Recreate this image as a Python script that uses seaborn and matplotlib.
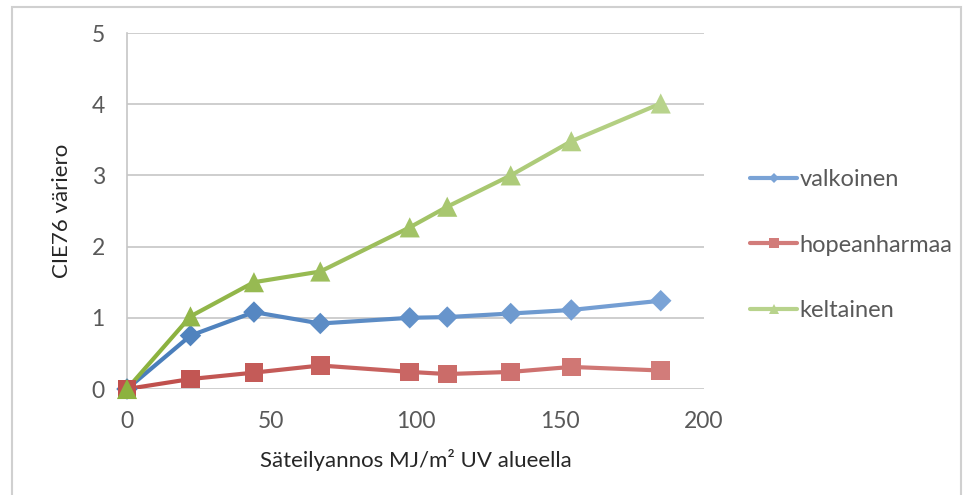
import matplotlib
matplotlib.use("Agg")
import matplotlib.pyplot as plt
import matplotlib.patches as mpatches
from matplotlib.lines import Line2D
import matplotlib.colors as mcolors
import numpy as np
import pandas as pd
import seaborn as sns

# data
dose = [0, 22, 44, 67, 98, 111, 133, 154, 185]
valkoinen = [0, 0.75, 1.08, 0.92, 1.00, 1.01, 1.06, 1.11, 1.24]
hopeanharmaa = [0, 0.14, 0.23, 0.33, 0.24, 0.21, 0.24, 0.31, 0.26]
keltainen = [0, 1.02, 1.50, 1.65, 2.27, 2.56, 3.00, 3.48, 4.01]
series_names = ["valkoinen", "hopeanharmaa", "keltainen"]

sns.set_style("white")
plt.rcParams["font.family"] = ["Lato", "DejaVu Sans"]

text_col = "#595959"
grid_col = "#c6c6c6"

# (start colour, end colour, marker, marker size)
styles = {
    "valkoinen": ("#4a7ebb", "#7aa3d6", "D", 120),
    "hopeanharmaa": ("#c0504d", "#d27c7a", "s", 180),
    "keltainen": ("#8cb23f", "#b8d38c", "^", 210),
}
values = {"valkoinen": valkoinen, "hopeanharmaa": hopeanharmaa, "keltainen": keltainen}

fig = plt.figure(figsize=(9.63, 4.95), dpi=100)
ax = fig.add_axes([127 / 963, 1 - 389 / 495, (704 - 127) / 963, (389 - 33) / 495])

for name in series_names:
    c0, c1, mk, ms = styles[name]
    ys = values[name]
    c0 = np.array(mcolors.to_rgb(c0))
    c1 = np.array(mcolors.to_rgb(c1))
    n = len(dose)
    # colour fades slightly towards the end of each line
    cols = [tuple(c0 + (c1 - c0) * (i / (n - 1))) for i in range(n)]
    for i in range(n - 1):
        seg = pd.DataFrame({"x": dose[i:i + 2], "y": ys[i:i + 2]})
        sns.lineplot(data=seg, x="x", y="y", ax=ax, color=cols[i], lw=3,
                     solid_capstyle="round", zorder=2)
    ax.scatter(dose, ys, c=cols, marker=mk, s=ms, linewidths=0, zorder=3, clip_on=False)

ax.set_xlim(0, 200)
ax.set_ylim(0, 5)
ax.set_xticks([0, 50, 100, 150, 200])
ax.set_yticks([0, 1, 2, 3, 4, 5])
ax.yaxis.grid(True, color=grid_col, lw=1.2)
ax.set_axisbelow(True)
for s in ["top", "right", "bottom"]:
    ax.spines[s].set_visible(False)
ax.spines["left"].set_color(grid_col)
ax.spines["left"].set_linewidth(1.2)
ax.tick_params(length=0, pad=16, labelsize=16.5, labelcolor=text_col)

ax.set_xlabel("Säteilyannos MJ/m² UV alueella", fontsize=16, color="#262626", labelpad=12)
ax.set_ylabel("CIE76 väriero", fontsize=16, color="#262626", labelpad=14)

handles = []
for name in series_names:
    c0, c1, mk, ms = styles[name]
    handles.append(Line2D([0], [0], color=c1, lw=3, marker=mk, markersize=7 if mk != "D" else 5,
                          markeredgewidth=0, markerfacecolor=c1))
leg = fig.legend(handles, series_names, loc="center left", bbox_to_anchor=(729 / 963, 1 - 245 / 495),
                 frameon=False, fontsize=17, handlelength=2.0, handletextpad=0.1,
                 labelspacing=1.88, labelcolor=text_col)

# outer chart frame
fig.patches.append(mpatches.Rectangle((12 / 963, -0.05), (961 - 12) / 963, (495 - 7) / 495 + 0.05,
                                      transform=fig.transFigure, fill=False,
                                      edgecolor="#d0d0d0", lw=1.5))

fig.savefig("out.png", dpi=100)
